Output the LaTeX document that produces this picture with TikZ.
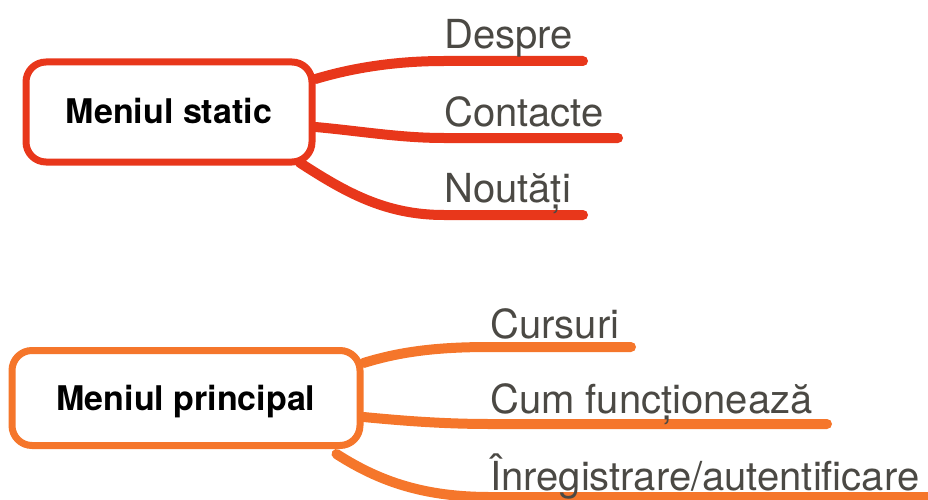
\documentclass[tikz,border=0pt]{standalone}
\usepackage{fontspec}
\setmainfont{TeX Gyre Heros}
\usetikzlibrary{calc, backgrounds}
\definecolor{redm}{HTML}{E8371B}
\definecolor{orangem}{HTML}{F5762B}
\definecolor{grayt}{HTML}{4B4944}

\begin{document}
\begin{tikzpicture}[x=1pt, y=-1pt]

	\tikzstyle{menu}=[rectangle, rounded corners=20pt, line width=7pt, fill=white, text=black, draw, inner sep=0pt, font=\fontsize{34}{40}\selectfont\bfseries, text height=24pt, text depth=0pt]
	\tikzstyle{item}=[anchor=base west, inner sep=0pt, text=grayt, font=\fontsize{40}{48}\selectfont]
	\tikzstyle{branch}=[line width=10pt, line cap=round]

	\useasboundingbox (0,0) rectangle (928,500);

	% meniul static
	\node[menu, draw=redm, minimum width=286pt, minimum height=100pt] (static) at (169,112) {Meniul static};
	\node[item] (despre) at (444,49) {Despre};
	\node[item] (contacte) at (444,127) {Contacte};
	\node[item] (noutati) at (444,202) {Noutăți};

	% meniul principal
	\node[menu, draw=orangem, minimum width=348pt, minimum height=95pt] (principal) at (186,398) {Meniul principal};
	\node[item] (cursuri) at (490,338) {Cursuri};
	\node[item] (cum) at (490,413) {Cum funcționează};
	\node[item] (inreg) at (490,490) {Înregistrare/autentificare};

	\begin{scope}[on background layer]
		\draw[branch, redm] ($(static.east)+(0,-33)$) .. controls (352,68) and (395,61) .. ($(despre.base west)+(0,12)$) -- ++(139,0);
		\draw[branch, redm] ($(static.east)+(0,15)$) .. controls (360,131) and (400,138) .. ($(contacte.base west)+(0,11)$) -- ++(174,0);
		\draw[branch, redm] ($(static.south east)+(-16,-3)$) .. controls (345,192) and (385,215) .. ($(noutati.base west)+(0,13)$) -- ++(139,0);

		\draw[branch, orangem] ($(principal.east)+(0,-35)$) .. controls (402,351) and (440,347) .. ($(cursuri.base west)+(0,9)$) -- ++(141,0);
		\draw[branch, orangem] ($(principal.east)+(0,19)$) .. controls (405,421) and (445,424) .. ($(cum.base west)+(0,11)$) -- ++(337,0);
		\draw[branch, orangem] ($(principal.south east)+(-27,5)$) .. controls (380,482) and (425,497) .. ($(inreg.base west)+(0,7)$) -- ++(445,0);
	\end{scope}

\end{tikzpicture}
\end{document}
